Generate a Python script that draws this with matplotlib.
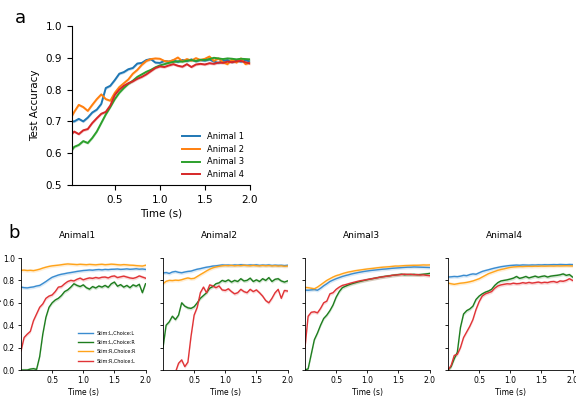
import numpy as np
import matplotlib
matplotlib.use("Agg")
import matplotlib.pyplot as plt

# time grid (s)
t = np.round(np.arange(0, 2.0001, 0.05), 2)

# ---- panel a: test accuracy per animal ----
animal_names = ['Animal 1', 'Animal 2', 'Animal 3', 'Animal 4']
acc_a1 = [0.700, 0.700, 0.708, 0.700, 0.712, 0.728, 0.737, 0.755, 0.805, 0.812, 0.830,
          0.850, 0.855, 0.864, 0.868, 0.882, 0.884, 0.893, 0.896, 0.885, 0.884, 0.890,
          0.888, 0.892, 0.887, 0.893, 0.890, 0.895, 0.889, 0.893, 0.891, 0.895, 0.888,
          0.884, 0.890, 0.893, 0.886, 0.892, 0.888, 0.893, 0.888]
acc_a2 = [0.705, 0.730, 0.752, 0.745, 0.733, 0.752, 0.770, 0.785, 0.770, 0.765, 0.790,
          0.808, 0.820, 0.832, 0.850, 0.862, 0.878, 0.890, 0.896, 0.898, 0.897, 0.890,
          0.888, 0.893, 0.901, 0.889, 0.896, 0.891, 0.899, 0.893, 0.897, 0.904, 0.890,
          0.898, 0.886, 0.880, 0.894, 0.885, 0.898, 0.880, 0.885]
acc_a3 = [0.600, 0.620, 0.626, 0.638, 0.632, 0.648, 0.668, 0.695, 0.722, 0.745, 0.770,
          0.790, 0.805, 0.818, 0.828, 0.840, 0.848, 0.856, 0.862, 0.870, 0.876, 0.880,
          0.884, 0.887, 0.889, 0.888, 0.891, 0.893, 0.890, 0.894, 0.893, 0.896, 0.900,
          0.898, 0.896, 0.898, 0.897, 0.895, 0.897, 0.896, 0.895]
acc_a4 = [0.655, 0.668, 0.660, 0.672, 0.676, 0.695, 0.710, 0.724, 0.730, 0.750, 0.783,
          0.800, 0.812, 0.820, 0.826, 0.834, 0.840, 0.848, 0.858, 0.868, 0.873, 0.871,
          0.876, 0.880, 0.875, 0.872, 0.880, 0.871, 0.879, 0.881, 0.879, 0.883, 0.881,
          0.885, 0.884, 0.888, 0.886, 0.889, 0.890, 0.886, 0.882]

# ---- panel b: accuracy by stimulus/choice condition ----
titles_b = ['Animal1', 'Animal2', 'Animal3', 'Animal4']
cond_names = ['Stim:L,Choice:L', 'Stim:L,Choice:R', 'Stim:R,Choice:R', 'Stim:R,Choice:L']

# Animal1
b1_LL = [0.740, 0.735, 0.733, 0.738, 0.742, 0.750, 0.755, 0.772, 0.790, 0.810, 0.828,
         0.838, 0.848, 0.855, 0.860, 0.866, 0.870, 0.875, 0.880, 0.884, 0.888, 0.890,
         0.893, 0.891, 0.895, 0.897, 0.894, 0.898, 0.896, 0.899, 0.900, 0.902, 0.898,
         0.900, 0.903, 0.899, 0.901, 0.904, 0.900, 0.902, 0.898]
b1_LR = [0.000, 0.000, 0.000, 0.008, 0.012, 0.005, 0.120, 0.320, 0.470, 0.560, 0.600,
         0.625, 0.640, 0.665, 0.700, 0.715, 0.740, 0.770, 0.755, 0.745, 0.760, 0.735,
         0.722, 0.745, 0.732, 0.750, 0.740, 0.755, 0.738, 0.770, 0.785, 0.748, 0.762,
         0.740, 0.755, 0.735, 0.760, 0.748, 0.765, 0.690, 0.770]
b1_RR = [0.890, 0.892, 0.888, 0.890, 0.887, 0.893, 0.900, 0.910, 0.918, 0.925, 0.930,
         0.933, 0.936, 0.940, 0.944, 0.947, 0.945, 0.943, 0.941, 0.944, 0.942, 0.940,
         0.943, 0.941, 0.939, 0.942, 0.944, 0.940, 0.942, 0.945, 0.943, 0.940, 0.938,
         0.941, 0.939, 0.936, 0.935, 0.932, 0.930, 0.928, 0.935]
b1_RL = [0.170, 0.290, 0.320, 0.345, 0.440, 0.500, 0.560, 0.590, 0.640, 0.660, 0.670,
         0.700, 0.740, 0.745, 0.770, 0.790, 0.800, 0.795, 0.810, 0.820, 0.805, 0.815,
         0.822, 0.818, 0.826, 0.820, 0.828, 0.830, 0.822, 0.835, 0.840, 0.825, 0.832,
         0.838, 0.830, 0.822, 0.818, 0.826, 0.840, 0.830, 0.820]

# Animal2
b2_LL = [0.866, 0.870, 0.862, 0.875, 0.880, 0.872, 0.868, 0.875, 0.880, 0.883, 0.892,
         0.900, 0.905, 0.912, 0.918, 0.922, 0.928, 0.930, 0.934, 0.938, 0.936, 0.937,
         0.934, 0.938, 0.936, 0.940, 0.937, 0.935, 0.938, 0.936, 0.939, 0.934, 0.937,
         0.935, 0.938, 0.933, 0.936, 0.934, 0.935, 0.932, 0.935]
b2_LR = [0.200, 0.400, 0.430, 0.480, 0.450, 0.490, 0.600, 0.570, 0.555, 0.550, 0.565,
         0.600, 0.640, 0.665, 0.690, 0.730, 0.745, 0.770, 0.778, 0.800, 0.790, 0.805,
         0.785, 0.800, 0.790, 0.815, 0.795, 0.800, 0.820, 0.790, 0.805, 0.790, 0.815,
         0.800, 0.825, 0.790, 0.810, 0.815, 0.795, 0.785, 0.795]
b2_RR = [0.770, 0.792, 0.800, 0.798, 0.802, 0.800, 0.806, 0.815, 0.822, 0.815, 0.818,
         0.835, 0.852, 0.868, 0.885, 0.900, 0.912, 0.920, 0.926, 0.930, 0.933, 0.931,
         0.934, 0.930, 0.933, 0.931, 0.935, 0.932, 0.930, 0.934, 0.931, 0.929, 0.933,
         0.930, 0.932, 0.929, 0.931, 0.928, 0.930, 0.926, 0.928]
b2_RL = [-0.050, -0.050, -0.050, -0.050, -0.020, 0.060, 0.090, 0.030, 0.070, 0.300, 0.490,
         0.560, 0.690, 0.740, 0.690, 0.760, 0.750, 0.735, 0.750, 0.715, 0.710, 0.725,
         0.700, 0.680, 0.690, 0.720, 0.700, 0.690, 0.720, 0.700, 0.715, 0.690, 0.660,
         0.620, 0.600, 0.640, 0.690, 0.720, 0.640, 0.710, 0.705]

# Animal3
b3_LL = [0.713, 0.712, 0.715, 0.718, 0.712, 0.730, 0.752, 0.770, 0.790, 0.803, 0.815,
         0.825, 0.835, 0.843, 0.850, 0.858, 0.864, 0.870, 0.875, 0.880, 0.884, 0.888,
         0.891, 0.894, 0.897, 0.900, 0.902, 0.905, 0.908, 0.910, 0.912, 0.914, 0.916,
         0.918, 0.918, 0.920, 0.919, 0.918, 0.917, 0.916, 0.915]
b3_LR = [0.000, 0.010, 0.140, 0.270, 0.330, 0.400, 0.460, 0.490, 0.530, 0.580, 0.650,
         0.700, 0.735, 0.748, 0.760, 0.770, 0.778, 0.786, 0.793, 0.800, 0.806, 0.812,
         0.817, 0.823, 0.828, 0.833, 0.837, 0.840, 0.845, 0.848, 0.852, 0.855, 0.850,
         0.853, 0.851, 0.854, 0.850, 0.852, 0.855, 0.858, 0.862]
b3_RR = [0.737, 0.735, 0.730, 0.725, 0.740, 0.760, 0.780, 0.800, 0.815, 0.830, 0.842,
         0.850, 0.860, 0.868, 0.875, 0.880, 0.886, 0.890, 0.894, 0.898, 0.902, 0.905,
         0.908, 0.912, 0.915, 0.918, 0.920, 0.922, 0.925, 0.928, 0.928, 0.930, 0.932,
         0.933, 0.934, 0.935, 0.935, 0.936, 0.938, 0.937, 0.938]
b3_RL = [0.200, 0.480, 0.515, 0.520, 0.510, 0.550, 0.600, 0.615, 0.680, 0.690, 0.720,
         0.740, 0.755, 0.762, 0.770, 0.778, 0.785, 0.792, 0.798, 0.802, 0.808, 0.812,
         0.818, 0.822, 0.828, 0.832, 0.836, 0.840, 0.845, 0.848, 0.850, 0.853, 0.856,
         0.852, 0.855, 0.850, 0.852, 0.848, 0.850, 0.845, 0.842]

# Animal4
b4_LL = [0.830, 0.832, 0.835, 0.833, 0.838, 0.845, 0.842, 0.852, 0.858, 0.855, 0.868,
         0.880, 0.888, 0.895, 0.903, 0.910, 0.916, 0.922, 0.926, 0.930, 0.933, 0.935,
         0.937, 0.935, 0.938, 0.937, 0.936, 0.938, 0.937, 0.939, 0.938, 0.940, 0.939,
         0.940, 0.941, 0.940, 0.942, 0.941, 0.940, 0.942, 0.941]
b4_LR = [0.000, 0.030, 0.100, 0.160, 0.380, 0.500, 0.530, 0.545, 0.570, 0.630, 0.660,
         0.680, 0.695, 0.705, 0.720, 0.755, 0.780, 0.795, 0.800, 0.805, 0.812, 0.820,
         0.835, 0.818, 0.825, 0.835, 0.822, 0.830, 0.838, 0.828, 0.835, 0.840, 0.830,
         0.838, 0.842, 0.845, 0.850, 0.858, 0.845, 0.852, 0.830]
b4_RR = [0.776, 0.770, 0.765, 0.770, 0.775, 0.778, 0.782, 0.788, 0.795, 0.805, 0.815,
         0.830, 0.845, 0.860, 0.870, 0.880, 0.890, 0.897, 0.903, 0.910, 0.916, 0.920,
         0.922, 0.924, 0.923, 0.925, 0.926, 0.925, 0.927, 0.926, 0.928, 0.927, 0.928,
         0.929, 0.928, 0.930, 0.929, 0.930, 0.931, 0.930, 0.929]
b4_RL = [0.000, 0.040, 0.130, 0.140, 0.200, 0.290, 0.340, 0.390, 0.450, 0.540, 0.610,
         0.660, 0.680, 0.690, 0.700, 0.730, 0.750, 0.760, 0.765, 0.770, 0.768, 0.775,
         0.770, 0.772, 0.780, 0.775, 0.782, 0.776, 0.780, 0.785, 0.778, 0.783, 0.780,
         0.788, 0.790, 0.782, 0.795, 0.792, 0.800, 0.815, 0.800]

colors_a = ['#1f77b4', '#ff7f0e', '#2ca02c', '#d62728']
colors_b = ['#3a8cd0', '#1e7d1e', '#ffa31a', '#e03336']

fig = plt.figure(figsize=(5.76, 3.97), dpi=100)

# ---------------- panel a ----------------
ax = fig.add_axes([0.125, 0.534, 0.309, 0.4005])
for ys, name, c in zip([acc_a1, acc_a2, acc_a3, acc_a4], animal_names, colors_a):
    ys = np.array(ys)
    ax.fill_between(t, ys - 0.004, ys + 0.004, color=c, alpha=0.25, lw=0)
    ax.plot(t, ys, color=c, lw=1.4, label=name)
ax.set_xlim(0.025, 2.0)
ax.set_ylim(0.5, 1.0)
ax.set_xticks([0.5, 1.0, 1.5, 2.0])
ax.set_yticks([0.5, 0.6, 0.7, 0.8, 0.9, 1.0])
ax.tick_params(labelsize=7.5, length=3.5, width=0.8)
ax.set_xlabel('Time (s)', fontsize=7.5, labelpad=3)
ax.set_ylabel('Test Accuracy', fontsize=7.5)
for s in ['top', 'right']:
    ax.spines[s].set_visible(False)
ax.legend(loc='lower right', frameon=False, fontsize=6, handlelength=2.2,
          borderaxespad=0.3, labelspacing=0.45)
fig.text(15 / 576, 1 - 18 / 397, 'a', fontsize=13, va='center', ha='left')

# ---------------- panel b ----------------
panel_data = [
    [b1_LL, b1_LR, b1_RR, b1_RL],
    [b2_LL, b2_LR, b2_RR, b2_RL],
    [b3_LL, b3_LR, b3_RR, b3_RL],
    [b4_LL, b4_LR, b4_RR, b4_RL],
]
lefts = [21, 163, 305, 448]
for i, (left, title, curves) in enumerate(zip(lefts, titles_b, panel_data)):
    axb = fig.add_axes([left / 576, 27 / 397, 124.5 / 576, 112 / 397])
    for ys, name, c in zip(curves, cond_names, colors_b):
        ys = np.array(ys)
        axb.fill_between(t, ys - 0.015, ys + 0.015, color=c, alpha=0.18, lw=0)
        axb.plot(t, ys, color=c, lw=1.0, label=name)
    axb.set_xlim(0, 2.0)
    axb.set_ylim(0, 1.0)
    axb.set_xticks([0.5, 1.0, 1.5, 2.0])
    axb.set_yticks([0.0, 0.2, 0.4, 0.6, 0.8, 1.0])
    axb.tick_params(labelsize=5.5, length=2.5, width=0.6, pad=2)
    axb.set_xlabel('Time (s)', fontsize=5.5, labelpad=2)
    for s in ['top', 'right']:
        axb.spines[s].set_visible(False)
    for s in ['left', 'bottom']:
        axb.spines[s].set_linewidth(0.6)
    axb.text(0.45, 1.2, title, transform=axb.transAxes, ha='center', va='center',
             fontsize=6.5)
    if i == 0:
        axb.set_ylabel('Accuracy', fontsize=5.5)
        axb.yaxis.set_label_coords(-0.15, 0.5)
        axb.legend(loc='lower right', bbox_to_anchor=(0.92, 0.06), frameon=False,
                   fontsize=3.5, handlelength=3.2, borderaxespad=0, borderpad=0,
                   labelspacing=0.85, handletextpad=0.6)
    else:
        axb.set_yticklabels([])
fig.text(8 / 576, 1 - 233 / 397, 'b', fontsize=13, va='center', ha='left')

plt.savefig('out.png', dpi=100)
